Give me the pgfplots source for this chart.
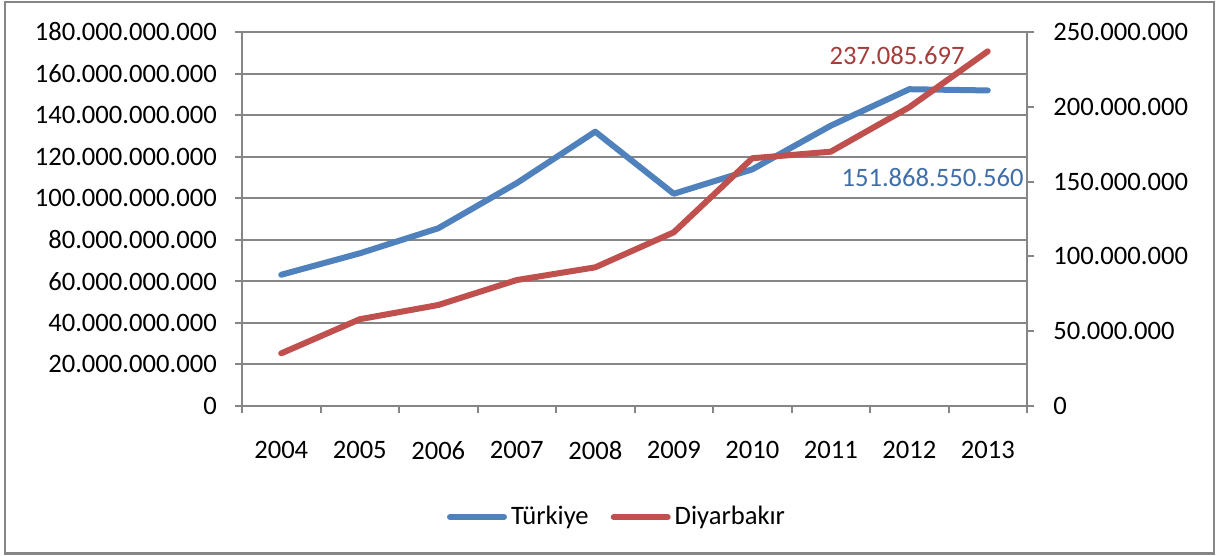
\documentclass[border=0pt]{standalone}
\usepackage{pgfplots}
\pgfplotsset{compat=1.18}
\usepackage{fontspec}
\setmainfont{Carlito}
\definecolor{tblue}{HTML}{4F81BD}
\definecolor{dred}{HTML}{C0504D}
\definecolor{lblue}{HTML}{3F6EA8}
\definecolor{lred}{HTML}{A63D3A}
\definecolor{gridc}{HTML}{868686}
\newcommand{\cf}{\fontsize{13.3}{15}\selectfont}
\begin{document}
\cf
\begin{tikzpicture}[x=1pt,y=1pt]
\useasboundingbox (0,0) rectangle (608,278);
\draw[gridc, line width=1.2pt] (2.6,1.2) rectangle (607,277);
\pgfplotsset{
  every axis/.append style={
    at={(121pt,75pt)}, anchor=south west,
    scale only axis, width=392.5pt, height=187pt,
    xmin=-0.5, xmax=9.5,
    axis line style={gridc, line width=1pt},
    tick style={gridc, line width=1pt},
    major tick length=3.5pt,
    tick align=outside,
    ticklabel style={font=\cf},
  }
}
\begin{axis}[
  ymin=0, ymax=180,
  ytick={0,20,...,180},
  yticklabels={0,20.000.000.000,40.000.000.000,60.000.000.000,80.000.000.000,100.000.000.000,120.000.000.000,140.000.000.000,160.000.000.000,180.000.000.000},
  ymajorgrids, grid style={gridc, line width=1pt},
  axis y line*=left,
  axis x line*=bottom,
  xtick={-0.5,0.5,...,9.5},
  xticklabels={},
  extra x ticks={0,1,...,9},
  extra x tick labels={2004,2005,2006,2007,2008,2009,2010,2011,2012,2013},
  extra x tick style={major tick length=0pt, xticklabel style={yshift=-13pt}},
  yticklabel style={xshift=-4.5pt},
  legend columns=2,
  legend style={at={(0.479,-0.297)}, anchor=center, draw=none, fill=none,
    font=\cf,
    /tikz/every even column/.append style={column sep=9pt}},
  legend image code/.code={\draw[#1, line cap=round] (0pt,0pt) -- (27pt,0pt);},
  clip=false,
]
\addplot[tblue, line width=3pt, line cap=round, line join=round] coordinates {
(0,63.17) (1,73.48) (2,85.53) (3,107.27) (4,132.03) (5,102.14) (6,113.88) (7,134.91) (8,152.46) (9,151.87)};
\addlegendentry{Türkiye}
\addlegendimage{dred, line width=3pt}
\addlegendentry{Diyarbakır}
\node[anchor=east, text=lblue, font=\cf] at (axis cs:9,151.87) [xshift=22.5pt, yshift=-43.5pt] {151.868.550.560};
\end{axis}
\begin{axis}[
  ymin=0, ymax=250,
  ytick={0,50,...,250},
  yticklabels={0,50.000.000,100.000.000,150.000.000,200.000.000,250.000.000},
  axis y line*=right,
  axis x line=none,
  yticklabel style={xshift=5pt},
  clip=false,
]
\addplot[dred, line width=3pt, line cap=round, line join=round] coordinates {
(0,35.2) (1,58.0) (2,67.5) (3,84.2) (4,92.7) (5,116.1) (6,165.6) (7,170.0) (8,199.7) (9,237.085697)};
\node[anchor=east, text=lred, font=\cf] at (axis cs:9,237.085697) [xshift=-7pt, yshift=-2pt] {237.085.697};
\end{axis}
\end{tikzpicture}
\end{document}
